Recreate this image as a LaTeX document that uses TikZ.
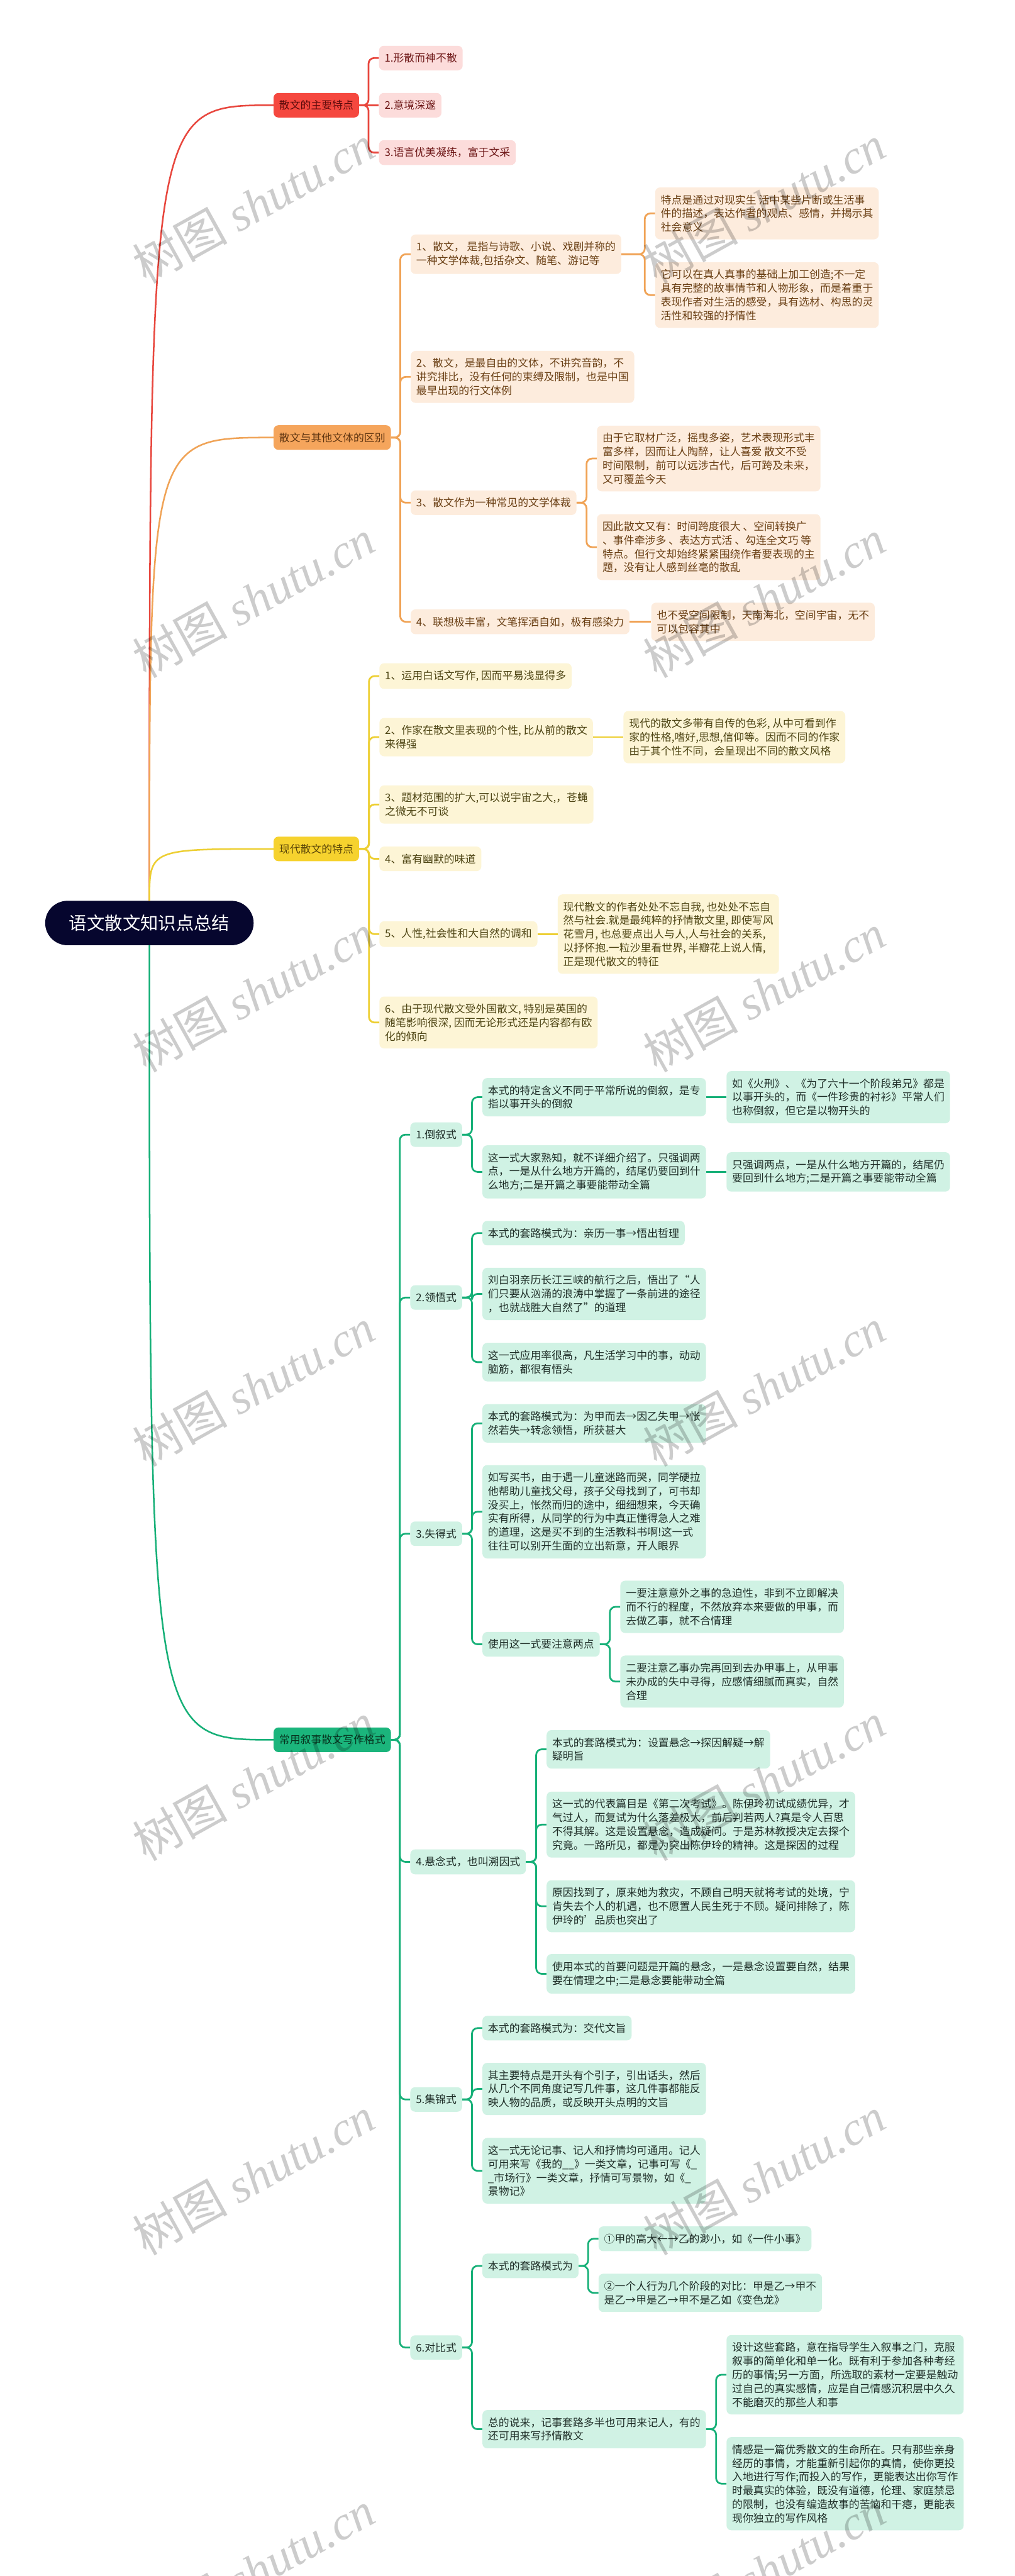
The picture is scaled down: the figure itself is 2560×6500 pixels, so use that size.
\documentclass[tikz,border=0pt]{standalone}
\usepackage{fontspec}
\setmainfont{Noto Sans CJK SC}
\newfontfamily\wmlat{Liberation Serif}
\definecolor{rootF}{HTML}{06062E}
\definecolor{redLine}{HTML}{E8473E}
\definecolor{redFill}{HTML}{F5483F}
\definecolor{redText}{HTML}{5C0B0B}
\definecolor{redCFill}{HTML}{FCDCDB}
\definecolor{redCText}{HTML}{6E1717}
\definecolor{orLine}{HTML}{F0A356}
\definecolor{orFill}{HTML}{F5A55C}
\definecolor{orText}{HTML}{5E3410}
\definecolor{orCFill}{HTML}{FDECDD}
\definecolor{orCText}{HTML}{6A3F14}
\definecolor{yeLine}{HTML}{EDCF33}
\definecolor{yeFill}{HTML}{F6D22E}
\definecolor{yeText}{HTML}{5A4508}
\definecolor{yeCFill}{HTML}{FDF5D6}
\definecolor{yeCText}{HTML}{4E4514}
\definecolor{grLine}{HTML}{17B078}
\definecolor{grFill}{HTML}{1BB57C}
\definecolor{grText}{HTML}{07331F}
\definecolor{grCFill}{HTML}{D0F2E4}
\definecolor{grCText}{HTML}{1F2E28}
\newcommand\lnk[3]{\path (#3.west) ++(-26,0) coordinate (jj); \draw[#1] (#2.east) -- (jj |- #2.east) |- (#3.west);}
\newcommand\slnk[3]{\draw[#1] (#2.east) -- (#3.west);}
\tikzset{
 box/.style={rounded corners=6pt, inner xsep=7pt, inner ysep=9.25pt, align=left, anchor=west, font=\fontsize{13.4}{17.3}\selectfont},
 rL/.style={box, fill=redFill, text=redText},
 rC/.style={box, fill=redCFill, text=redCText},
 oL/.style={box, fill=orFill, text=orText},
 oC/.style={box, fill=orCFill, text=orCText},
 yL/.style={box, fill=yeFill, text=yeText},
 yC/.style={box, fill=yeCFill, text=yeCText},
 gL/.style={box, fill=grFill, text=grText},
 gC/.style={box, fill=grCFill, text=grCText},
 cr/.style={draw=redLine, line width=2.2pt, rounded corners=7pt},
 co/.style={draw=orLine, line width=2.2pt, rounded corners=7pt},
 cy/.style={draw=yeLine, line width=2.2pt, rounded corners=7pt},
 cg/.style={draw=grLine, line width=2.2pt, rounded corners=7pt},
 wm/.style={rotate=29, text=black, text opacity=0.2, font=\fontsize{60}{60}\selectfont},
}
\begin{document}
\begin{tikzpicture}[x=0.5pt, y=-0.5pt]
\fill[white] (0,0) rectangle (2560,6500);
\useasboundingbox (0,0) rectangle (2560,6500);
% root
\node[fill=rootF, text=white, rounded corners=28pt, minimum width=263pt, minimum height=56pt, font=\fontsize{22.5}{26}\selectfont] (root) at (377,2329) {语文散文知识点总结};
% red
\node[rL] (R) at (690,265.5) {散文的主要特点};
\node[rC] (r1) at (956,146.5) {1.形散而神不散};
\node[rC] (r2) at (956,265.5) {2.意境深邃};
\node[rC] (r3) at (956,385) {3.语言优美凝练，富于文采};
% orange
\node[oL] (O) at (690,1104) {散文与其他文体的区别};
\node[oC] (o1) at (1036,641.5) {1、散文， 是指与诗歌、小说、戏剧并称的\\一种文学体裁,包括杂文、随笔、游记等};
\node[oC] (o1a) at (1653,538.5) {特点是通过对现实生 活中某些片断或生活事\\件的描述，表达作者的观点、感情，并揭示其\\社会意义};
\node[oC] (o1b) at (1653,744.5) {它可以在真人真事的基础上加工创造;不一定\\具有完整的故事情节和人物形象，而是着重于\\表现作者对生活的感受，具有选材、构思的灵\\活性和较强的抒情性};
\node[oC] (o2) at (1036,951) {2、散文，是最自由的文体，不讲究音韵，不\\讲究排比，没有任何的束缚及限制，也是中国\\最早出现的行文体例};
\node[oC] (o3) at (1036,1268.5) {3、散文作为一种常见的文学体裁};
\node[oC] (o3a) at (1506,1157) {由于它取材广泛，摇曳多姿，艺术表现形式丰\\富多样，因而让人陶醉，让人喜爱 散文不受\\时间限制，前可以远涉古代，后可跨及未来，\\又可覆盖今天};
\node[oC] (o3b) at (1506,1380.5) {因此散文又有：时间跨度很大 、空间转换广\\、事件牵涉多 、表达方式活 、勾连全文巧 等\\特点。但行文却始终紧紧围绕作者要表现的主\\题，没有让人感到丝毫的散乱};
\node[oC] (o4) at (1036,1569) {4、联想极丰富，文笔挥洒自如，极有感染力};
\node[oC] (o4a) at (1643,1569) {也不受空间限制，天南海北，空间宇宙，无不\\可以包容其中};
% yellow
\node[yL] (Y) at (690,2142) {现代散文的特点};
\node[yC] (y1) at (957,1706) {1、运用白话文写作, 因而平易浅显得多};
\node[yC] (y2) at (957,1860) {2、作家在散文里表现的个性, 比从前的散文\\来得强};
\node[yC] (y2a) at (1573,1860) {现代的散文多带有自传的色彩, 从中可看到作\\家的性格,嗜好,思想,信仰等。因而不同的作家\\由于其个性不同，会呈现出不同的散文风格};
\node[yC] (y3) at (957,2030) {3、题材范围的扩大,可以说宇宙之大,，苍蝇\\之微无不可谈};
\node[yC] (y4) at (957,2167) {4、富有幽默的味道};
\node[yC] (y5) at (957,2357) {5、人性,社会性和大自然的调和};
\node[yC] (y5a) at (1407,2357) {现代散文的作者处处不忘自我, 也处处不忘自\\然与社会.就是最纯粹的抒情散文里, 即使写风\\花雪月, 也总要点出人与人,人与社会的关系,\\以抒怀抱.一粒沙里看世界, 半瓣花上说人情,\\正是现代散文的特征};
\node[yC] (y6) at (957,2580) {6、由于现代散文受外国散文, 特别是英国的\\随笔影响很深, 因而无论形式还是内容都有欧\\化的倾向};
% green
\node[gL] (G) at (690,4390) {常用叙事散文写作格式};
\node[gC] (g1) at (1035,2863) {1.倒叙式};
\node[gC] (g1a) at (1217,2768.5) {本式的特定含义不同于平常所说的倒叙，是专\\指以事开头的倒叙};
\node[gC] (g1a1) at (1833,2768.5) {如《火刑》、《为了六十一个阶段弟兄》都是\\以事开头的，而《一件珍贵的衬衫》平常人们\\也称倒叙，但它是以物开头的};
\node[gC] (g1b) at (1217,2957) {这一式大家熟知，就不详细介绍了。只强调两\\点，一是从什么地方开篇的，结尾仍要回到什\\么地方;二是开篇之事要能带动全篇};
\node[gC] (g1b1) at (1833,2957) {只强调两点，一是从什么地方开篇的，结尾仍\\要回到什么地方;二是开篇之事要能带动全篇};
\node[gC] (g2) at (1035,3274) {2.领悟式};
\node[gC] (g2a) at (1217,3111.5) {本式的套路模式为：亲历一事→悟出哲理};
\node[gC] (g2b) at (1217,3265) {刘白羽亲历长江三峡的航行之后，悟出了“人\\们只要从汹涌的浪涛中掌握了一条前进的途径\\，也就战胜大自然了”的道理};
\node[gC] (g2c) at (1217,3437) {这一式应用率很高，凡生活学习中的事，动动\\脑筋，都很有悟头};
\node[gC] (g3) at (1035,3870) {3.失得式};
\node[gC] (g3a) at (1217,3591.5) {本式的套路模式为：为甲而去→因乙失甲→怅\\然若失→转念领悟，所获甚大};
\node[gC] (g3b) at (1217,3814.5) {如写买书，由于遇一儿童迷路而哭，同学硬拉\\他帮助儿童找父母，孩子父母找到了，可书却\\没买上，怅然而归的途中，细细想来，今天确\\实有所得，从同学的行为中真正懂得急人之难\\的道理，这是买不到的生活教科书啊!这一式\\往往可以别开生面的立出新意，开人眼界};
\node[gC] (g3c) at (1217,4149) {使用这一式要注意两点};
\node[gC] (g3c1) at (1565,4054.5) {一要注意意外之事的急迫性，非到不立即解决\\而不行的程度，不然放弃本来要做的甲事，而\\去做乙事，就不合情理};
\node[gC] (g3c2) at (1565,4243) {二要注意乙事办完再回到去办甲事上，从甲事\\未办成的失中寻得，应感情细腻而真实，自然\\合理};
\node[gC] (g4) at (1035,4698) {4.悬念式，也叫溯因式};
\node[gC] (g4a) at (1379,4414) {本式的套路模式为：设置悬念→探因解疑→解\\疑明旨};
\node[gC] (g4b) at (1379,4604) {这一式的代表篇目是《第二次考试》。陈伊玲初试成绩优异，才\\气过人，而复试为什么落差极大，前后判若两人?真是令人百思\\不得其解。这是设置悬念，造成疑问。于是苏林教授决定去探个\\究竟。一路所见，都是为突出陈伊玲的精神。这是探因的过程};
\node[gC] (g4c) at (1379,4810) {原因找到了，原来她为救灾，不顾自己明天就将考试的处境，宁\\肯失去个人的机遇，也不愿置人民生死于不顾。疑问排除了，陈\\伊玲的'品质也突出了};
\node[gC] (g4d) at (1379,4980.5) {使用本式的首要问题是开篇的悬念，一是悬念设置要自然，结果\\要在情理之中;二是悬念要能带动全篇};
\node[gC] (g5) at (1035,5297.5) {5.集锦式};
\node[gC] (g5a) at (1217,5117.5) {本式的套路模式为：交代文旨};
\node[gC] (g5b) at (1217,5271) {其主要特点是开头有个引子，引出话头，然后\\从几个不同角度记写几件事，这几件事都能反\\映人物的品质，或反映开头点明的文旨};
\node[gC] (g5c) at (1217,5477.5) {这一式无论记事、记人和抒情均可通用。记人\\可用来写《我的\_\_》一类文章，记事可写《\_\\\_市场行》一类文章，抒情可写景物，如《\_\\景物记》};
\node[gC] (g6) at (1035,5923.5) {6.对比式};
\node[gC] (g6a) at (1217,5717.5) {本式的套路模式为};
\node[gC] (g6a1) at (1510,5649) {①甲的高大←→乙的渺小，如《一件小事》};
\node[gC] (g6a2) at (1510,5785.5) {②一个人行为几个阶段的对比：甲是乙→甲不\\是乙→甲是乙→甲不是乙如《变色龙》};
\node[gC] (g6b) at (1217,6129.5) {总的说来，记事套路多半也可用来记人，有的\\还可用来写抒情散文};
\node[gC] (g6b1) at (1833,5992) {设计这些套路，意在指导学生入叙事之门，克服\\叙事的简单化和单一化。既有利于参加各种考经\\历的事情;另一方面，所选取的素材一定要是触动\\过自己的真实感情，应是自己情感沉积层中久久\\不能磨灭的那些人和事};
\node[gC] (g6b2) at (1833,6267) {情感是一篇优秀散文的生命所在。只有那些亲身\\经历的事情，才能重新引起你的真情，使你更投\\入地进行写作;而投入的写作，更能表达出你写作\\时最真实的体验，既没有道德，伦理、家庭禁忌\\的限制，也没有编造故事的苦恼和干瘪，更能表\\现你独立的写作风格};
% root connectors
\draw[redLine, line width=2pt] (root.north) .. controls (root.north |- R.west) .. (R.west);
\draw[orLine, line width=2pt] (root.north) .. controls (root.north |- O.west) .. (O.west);
\draw[yeLine, line width=2pt] (root.north) .. controls (root.north |- Y.west) .. (Y.west);
\draw[grLine, line width=2pt] (root.south) .. controls (root.south |- G.west) .. (G.west);
% red
\lnk{cr}{R}{r1} \slnk{cr}{R}{r2} \lnk{cr}{R}{r3}
% orange
\lnk{co}{O}{o1} \lnk{co}{O}{o2} \lnk{co}{O}{o3} \lnk{co}{O}{o4}
\lnk{co}{o1}{o1a} \lnk{co}{o1}{o1b}
\lnk{co}{o3}{o3a} \lnk{co}{o3}{o3b}
\slnk{co}{o4}{o4a}
% yellow
\lnk{cy}{Y}{y1} \lnk{cy}{Y}{y2} \lnk{cy}{Y}{y3} \lnk{cy}{Y}{y4} \lnk{cy}{Y}{y5} \lnk{cy}{Y}{y6}
\slnk{cy}{y2}{y2a} \slnk{cy}{y5}{y5a}
% green
\lnk{cg}{G}{g1} \lnk{cg}{G}{g2} \lnk{cg}{G}{g3} \lnk{cg}{G}{g4} \lnk{cg}{G}{g5} \lnk{cg}{G}{g6}
\lnk{cg}{g1}{g1a} \lnk{cg}{g1}{g1b} \slnk{cg}{g1a}{g1a1} \slnk{cg}{g1b}{g1b1}
\lnk{cg}{g2}{g2a} \lnk{cg}{g2}{g2b} \lnk{cg}{g2}{g2c}
\lnk{cg}{g3}{g3a} \lnk{cg}{g3}{g3b} \lnk{cg}{g3}{g3c}
\lnk{cg}{g3c}{g3c1} \lnk{cg}{g3c}{g3c2}
\lnk{cg}{g4}{g4a} \lnk{cg}{g4}{g4b} \lnk{cg}{g4}{g4c} \lnk{cg}{g4}{g4d}
\lnk{cg}{g5}{g5a} \lnk{cg}{g5}{g5b} \lnk{cg}{g5}{g5c}
\lnk{cg}{g6}{g6a} \lnk{cg}{g6}{g6b}
\lnk{cg}{g6a}{g6a1} \lnk{cg}{g6a}{g6a2}
\lnk{cg}{g6b}{g6b1} \lnk{cg}{g6b}{g6b2}
% watermarks
\foreach \k in {0,...,6}{
 \node[wm] (wl\k) at (640,{515+995*\k}) {树图 {\wmlat\itshape shutu.cn}};
 \node[wm] (wr\k) at (1928,{515+995*\k}) {树图 {\wmlat\itshape shutu.cn}};
}
\end{tikzpicture}
\end{document}
